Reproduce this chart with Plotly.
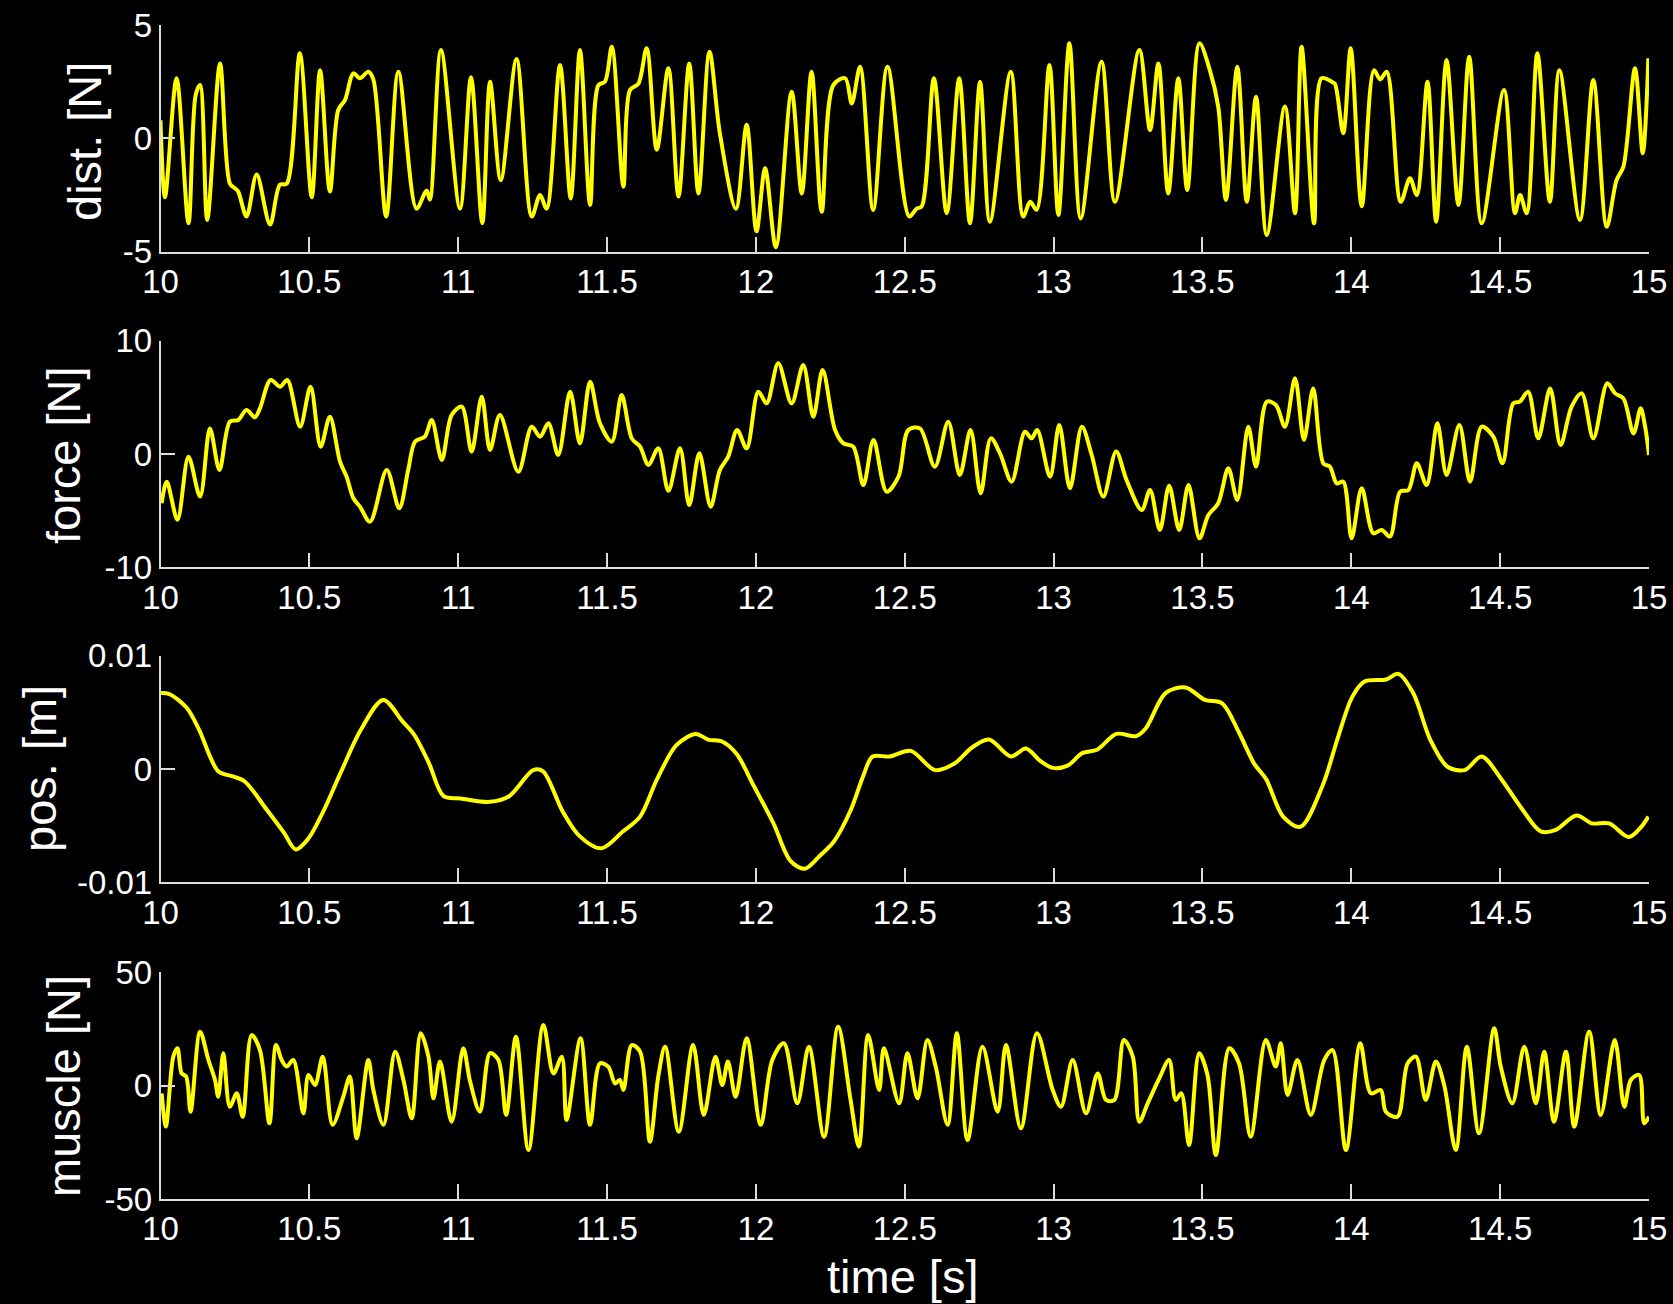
import plotly.graph_objects as go

# ---- disturbance force [N] ----
dist_t = [10.000, 10.015, 10.054, 10.094, 10.118, 10.133, 10.157, 10.200, 10.233, 10.250,
          10.261, 10.289, 10.323, 10.368, 10.401, 10.424, 10.468, 10.508, 10.536, 10.569,
          10.597, 10.620, 10.648, 10.670, 10.698, 10.715, 10.758, 10.799, 10.860, 10.894,
          10.905, 10.942, 11.006, 11.043, 11.081, 11.107, 11.143, 11.196, 11.247, 11.275,
          11.297, 11.342, 11.378, 11.409, 11.443, 11.471, 11.493, 11.516, 11.555, 11.577,
          11.605, 11.633, 11.667, 11.706, 11.740, 11.776, 11.807, 11.844, 11.879, 11.933,
          11.969, 12.002, 12.031, 12.067, 12.120, 12.154, 12.187, 12.221, 12.260, 12.300,
          12.322, 12.350, 12.394, 12.442, 12.515, 12.540, 12.557, 12.598, 12.641, 12.683,
          12.719, 12.753, 12.786, 12.856, 12.898, 12.921, 12.943, 12.986, 13.016, 13.053,
          13.091, 13.161, 13.206, 13.288, 13.324, 13.352, 13.385, 13.419, 13.449, 13.490,
          13.525, 13.553, 13.579, 13.617, 13.649, 13.680, 13.716, 13.777, 13.811, 13.833,
          13.875, 13.900, 13.934, 13.945, 13.973, 13.998, 14.035, 14.076, 14.097, 14.119,
          14.166, 14.197, 14.220, 14.256, 14.285, 14.320, 14.360, 14.396, 14.438, 14.513,
          14.550, 14.567, 14.589, 14.625, 14.667, 14.699, 14.768, 14.813, 14.858, 14.891,
          14.914, 14.953, 14.979, 14.998]
dist_v = [0.8, -2.6, 2.65, -3.75, 1.9, 2.35, -3.6, 3.3, -2.0, -2.2,
          -2.35, -3.45, -1.6, -3.8, -2.05, -2.0, 3.75, -2.6, 3.0, -2.35,
          1.25, 1.7, 2.87, 2.65, 2.94, 2.6, -3.45, 2.94, -3.1, -2.3,
          -2.7, 3.9, -3.1, 2.7, -3.75, 2.5, -1.84, 3.5, -3.45, -2.5,
          -3.1, 3.24, -2.65, 3.9, -2.94, 2.35, 2.5, 4.04, -2.13, 2.13,
          2.4, 3.97, -0.5, 3.09, -2.57, 3.3, -2.43, 3.82, 0.22, -3.1,
          0.6, -4.1, -1.32, -4.8, 2.06, -2.43, 2.94, -3.24, 2.35, 2.65,
          1.54, 3.16, -3.16, 3.16, -3.45, -3.1, -3.0, 2.65, -3.3, 2.65,
          -3.75, 2.5, -3.68, 2.94, -3.45, -2.8, -3.15, 3.24, -3.38, 4.19,
          -3.53, 3.38, -2.8, 3.9, 0.37, 3.3, -2.43, 2.65, -2.28, 4.19,
          3.0, 1.4, -2.72, 3.16, -2.8, 1.84, -4.26, 1.4, -3.3, 4.04,
          -3.75, 2.65, 2.5, 2.4, 0.22, 3.97, -3.0, 3.0, 2.6, 2.94,
          -2.8, -1.76, -2.5, 2.5, -3.68, 3.46, -2.94, 3.6, -3.75, 2.13,
          -3.3, -2.5, -3.3, 3.75, -2.8, 3.0, -3.6, 2.57, -3.9, -1.84,
          -1.25, 3.09, -0.66, 3.53]

# ---- interaction force [N] ----
force_t = [10.004, 10.021, 10.057, 10.094, 10.133, 10.166, 10.198, 10.233, 10.261, 10.289,
           10.317, 10.334, 10.370, 10.402, 10.426, 10.469, 10.504, 10.538, 10.569, 10.603,
           10.625, 10.648, 10.670, 10.704, 10.760, 10.802, 10.832, 10.855, 10.888, 10.911,
           10.945, 10.978, 11.012, 11.045, 11.079, 11.107, 11.140, 11.202, 11.247, 11.275,
           11.303, 11.336, 11.376, 11.409, 11.443, 11.476, 11.516, 11.549, 11.583, 11.611,
           11.639, 11.672, 11.706, 11.745, 11.776, 11.810, 11.848, 11.879, 11.907, 11.937,
           11.969, 12.008, 12.036, 12.075, 12.120, 12.159, 12.193, 12.224, 12.266, 12.294,
           12.327, 12.361, 12.395, 12.439, 12.479, 12.512, 12.551, 12.601, 12.646, 12.685,
           12.721, 12.755, 12.789, 12.820, 12.859, 12.904, 12.926, 12.945, 12.988, 13.019,
           13.055, 13.095, 13.128, 13.167, 13.210, 13.245, 13.296, 13.324, 13.357, 13.388,
           13.422, 13.453, 13.490, 13.520, 13.553, 13.587, 13.617, 13.654, 13.680, 13.716,
           13.747, 13.777, 13.811, 13.841, 13.872, 13.906, 13.928, 13.951, 13.973, 14.001,
           14.035, 14.074, 14.102, 14.130, 14.164, 14.192, 14.220, 14.253, 14.289, 14.320,
           14.363, 14.399, 14.438, 14.477, 14.508, 14.544, 14.566, 14.594, 14.628, 14.668,
           14.703, 14.740, 14.774, 14.813, 14.860, 14.886, 14.914, 14.948, 14.972, 14.987,
           15.000]
force_v = [-4.35, -2.44, -5.8, -0.24, -3.76, 2.26, -1.41, 2.85, 3.0, 3.88,
           3.24, 4.03, 6.53, 5.94, 6.53, 2.41, 5.94, 0.65, 3.29, -0.68,
           -2.0, -3.91, -4.65, -5.97, -1.41, -4.79, -1.41, 1.09, 1.53, 3.0,
           -0.53, 3.44, 4.18, 0.21, 5.06, 0.35, 3.44, -1.56, 2.41, 1.53,
           2.71, -0.09, 5.5, 0.94, 6.38, 2.71, 1.09, 5.21, 1.38, 0.65,
           -0.97, 0.5, -3.25, 0.5, -4.5, 0.06, -4.65, -1.41, -0.24, 2.12,
           0.5, 5.5, 4.47, 8.0, 4.47, 7.85, 3.29, 7.41, 2.12, 0.94,
           0.65, -2.74, 1.24, -3.32, -2.0, 2.12, 2.26, -1.12, 2.85, -1.85,
           2.12, -3.47, 1.38, 0.06, -2.44, 1.97, 1.38, 2.12, -2.0, 2.56,
           -3.03, 2.41, -0.09, -3.76, 0.21, -2.29, -4.94, -3.18, -6.7, -2.8,
           -6.7, -2.74, -7.44, -5.38, -4.35, -1.26, -4.06, 2.41, -1.12, 4.62,
           4.32, 2.41, 6.68, 1.24, 5.79, -0.82, -1.12, -2.59, -2.44, -7.44,
           -3.03, -7.0, -6.7, -7.29, -3.32, -3.18, -0.82, -2.74, 2.71, -1.85,
           2.56, -2.44, 2.41, 1.53, -0.82, 4.47, 4.62, 5.5, 1.38, 5.79,
           0.79, 4.18, 5.35, 1.38, 6.24, 5.35, 4.91, 1.82, 4.03, 2.41,
           -0.09]

# ---- hand position [m] ----
pos_t = [10.002, 10.031, 10.088, 10.129, 10.194, 10.243, 10.283, 10.357, 10.414, 10.454,
         10.495, 10.544, 10.609, 10.674, 10.748, 10.813, 10.853, 10.902, 10.951, 11.008,
         11.106, 11.171, 11.252, 11.285, 11.350, 11.407, 11.481, 11.554, 11.611, 11.668,
         11.733, 11.798, 11.839, 11.888, 11.936, 11.993, 12.059, 12.116, 12.164, 12.213,
         12.262, 12.319, 12.360, 12.392, 12.449, 12.520, 12.602, 12.668, 12.726, 12.783,
         12.857, 12.907, 12.956, 12.997, 13.047, 13.096, 13.146, 13.211, 13.277, 13.310,
         13.376, 13.443, 13.508, 13.566, 13.623, 13.673, 13.714, 13.771, 13.829, 13.903,
         13.953, 14.002, 14.043, 14.117, 14.158, 14.208, 14.265, 14.323, 14.381, 14.438,
         14.504, 14.570, 14.636, 14.685, 14.756, 14.809, 14.866, 14.932, 14.974, 14.998]
pos_v = [0.0067, 0.0066, 0.0054, 0.0035, -0.0002, -0.00065, -0.0011, -0.0036, -0.0056, -0.0071,
         -0.0062, -0.0039, -0.0001, 0.0035, 0.0061, 0.0042, 0.0030, 0.0005, -0.0024, -0.0026,
         -0.0029, -0.0024, -0.0001, -0.0002, -0.0037, -0.0059, -0.0070, -0.0055, -0.0042, -0.0009,
         0.0021, 0.0031, 0.0026, 0.0024, 0.0013, -0.0015, -0.0048, -0.0081, -0.0088, -0.0077,
         -0.0064, -0.0036, -0.00065, 0.0011, 0.0011, 0.0016, -0.0001, 0.0005, 0.0019, 0.0026,
         0.0011, 0.0018, 0.0007, 0.0001, 0.0003, 0.0014, 0.0017, 0.0031, 0.0029, 0.0036,
         0.0067, 0.0072, 0.0061, 0.0058, 0.0032, 0.0005, -0.0009, -0.0042, -0.0051, -0.0015,
         0.0026, 0.0063, 0.0077, 0.0079, 0.0084, 0.0067, 0.0026, 0.0002, -0.0001, 0.0011,
         -0.0009, -0.0034, -0.0055, -0.0054, -0.0041, -0.0048, -0.0048, -0.0060, -0.0051, -0.0042]

# ---- muscle force [N] ----
muscle_t = [10.004, 10.018, 10.043, 10.057, 10.071, 10.086, 10.101, 10.133, 10.161, 10.183,
            10.194, 10.211, 10.233, 10.256, 10.276, 10.306, 10.334, 10.366, 10.388, 10.407,
            10.424, 10.446, 10.480, 10.497, 10.519, 10.545, 10.578, 10.614, 10.636, 10.659,
            10.698, 10.715, 10.749, 10.788, 10.816, 10.844, 10.874, 10.900, 10.917, 10.939,
            10.978, 11.017, 11.040, 11.073, 11.107, 11.135, 11.161, 11.194, 11.236, 11.286,
            11.320, 11.348, 11.364, 11.411, 11.443, 11.476, 11.504, 11.527, 11.543, 11.555,
            11.583, 11.611, 11.644, 11.672, 11.695, 11.741, 11.789, 11.825, 11.864, 11.887,
            11.906, 11.932, 11.969, 12.016, 12.055, 12.094, 12.139, 12.178, 12.229, 12.276,
            12.318, 12.346, 12.377, 12.414, 12.430, 12.481, 12.509, 12.543, 12.576, 12.604,
            12.644, 12.675, 12.711, 12.761, 12.812, 12.840, 12.890, 12.944, 12.997, 13.025,
            13.064, 13.109, 13.148, 13.176, 13.204, 13.236, 13.266, 13.288, 13.316, 13.355,
            13.388, 13.410, 13.429, 13.455, 13.489, 13.517, 13.545, 13.590, 13.623, 13.662,
            13.713, 13.746, 13.763, 13.786, 13.819, 13.864, 13.909, 13.937, 13.982, 14.030,
            14.066, 14.099, 14.116, 14.155, 14.189, 14.217, 14.250, 14.284, 14.312, 14.351,
            14.388, 14.429, 14.480, 14.502, 14.541, 14.581, 14.620, 14.648, 14.681, 14.721,
            14.749, 14.799, 14.838, 14.885, 14.917, 14.939, 14.967, 14.984, 15.000]
muscle_v = [-3.4, -18.0, 12.8, 16.5, 5.4, 4.0, -11.5, 23.8, 11.3, 2.5,
            -4.9, 14.3, -9.3, -3.4, -13.7, 22.3, 15.7, -16.6, 17.9, 11.3,
            8.4, 11.3, -12.2, 4.7, 0.3, 12.8, -17.3, -4.9, 4.0, -23.2,
            11.3, -1.9, -17.3, 15.0, 2.5, -14.4, 23.1, 12.8, -5.6, 10.6,
            -15.9, 16.5, 1.8, -11.5, 14.3, 11.3, -12.9, 21.6, -28.4, 26.8,
            5.4, 12.8, -15.1, 20.9, -17.3, 9.8, 8.4, 1.0, 2.5, -1.9,
            17.9, 15.0, -24.7, 4.0, 17.2, -20.3, 17.9, -12.9, 12.8, 0.3,
            10.6, -4.9, 20.9, -17.3, 11.3, 18.7, -7.8, 17.2, -22.5, 26.0,
            -6.3, -26.9, 22.3, -1.9, 16.5, -7.8, 14.3, -5.6, 20.1, 8.4,
            -17.3, 23.1, -24.0, 17.2, -11.5, 17.9, -18.8, 23.1, -1.9, -9.3,
            11.3, -12.2, 5.4, -6.3, -6.3, 20.1, 12.8, -15.9, -7.8, 3.2,
            11.3, -6.3, -3.4, -26.2, 14.3, 4.7, -30.6, 16.5, 9.8, -22.5,
            20.1, 8.4, 18.7, -4.1, 11.3, -12.9, 11.3, 15.7, -28.4, 18.7,
            -3.4, -1.9, -11.5, -13.7, 9.8, 12.8, -6.3, 10.6, 0.3, -28.4,
            17.2, -21.0, 25.3, 8.4, -7.8, 17.2, -7.8, 15.0, -15.9, 15.0,
            -18.1, 23.8, -12.9, 20.1, -9.3, 2.5, 4.7, -16.6, -13.7]

# ---- axes ticks ----
time_ticks = [10, 10.5, 11, 11.5, 12, 12.5, 13, 13.5, 14, 14.5, 15]
time_labels = ["10", "10.5", "11", "11.5", "12", "12.5", "13", "13.5", "14", "14.5", "15"]

panel_names = ["dist. [N]", "force [N]", "pos. [m]", "muscle [N]"]
panel_ticks = [[-5, 0, 5], [-10, 0, 10], [-0.01, 0, 0.01], [-50, 0, 50]]
panel_labels = [["-5", "0", "5"], ["-10", "0", "10"], ["-0.01", "0", "0.01"], ["-50", "0", "50"]]
panel_ranges = [[-5, 5], [-10, 10], [-0.01, 0.01], [-50, 50]]

W, H = 1673, 1304
FONT = "Liberation Sans, Arial, sans-serif"
AXIS_COLOR = "#dcdcdc"

# panel extents in pixels (top, bottom) and plot x extents
panel_px = [(25, 251.7), (340.7, 567.3), (655.7, 882.3), (972.3, 1199)]
x_left, x_right = 160.5, 1649
title_px = [(84, 142), (63, 455), (39, 769), (63, 1086)]

series = [(dist_t, dist_v), (force_t, force_v), (pos_t, pos_v), (muscle_t, muscle_v)]

fig = go.Figure()
layout = dict(
    template="none",
    width=W, height=H, autosize=False,
    margin=dict(l=0, r=0, t=0, b=0, pad=0, autoexpand=False),
    paper_bgcolor="black", plot_bgcolor="black",
    showlegend=False,
    font=dict(family=FONT, color="white", size=33),
    annotations=[],
)

for i, ((t, v), (top, bot)) in enumerate(zip(series, panel_px)):
    n = "" if i == 0 else str(i + 1)
    fig.add_trace(go.Scatter(
        x=t, y=v, mode="lines",
        line=dict(color="#ffff00", width=4, shape="spline", smoothing=0.9),
        xaxis="x" + n, yaxis="y" + n, hoverinfo="skip",
    ))
    layout["xaxis" + n] = dict(
        domain=[x_left / W, x_right / W], anchor="y" + n, automargin=False,
        range=[10, 15], tickvals=time_ticks, ticktext=time_labels,
        ticks="inside", ticklen=15, tickwidth=1.5, tickcolor=AXIS_COLOR,
        showline=True, linecolor=AXIS_COLOR, linewidth=1.5,
        showgrid=False, zeroline=False, mirror=False,
        tickfont=dict(family=FONT, size=33, color="white"),
    )
    layout["yaxis" + n] = dict(
        domain=[1 - bot / H, 1 - top / H], anchor="x" + n, automargin=False,
        range=panel_ranges[i], tickvals=panel_ticks[i], ticktext=panel_labels[i],
        ticks="inside", ticklen=15, tickwidth=1.5, tickcolor=AXIS_COLOR,
        showline=True, linecolor=AXIS_COLOR, linewidth=1.5,
        showgrid=False, zeroline=False, mirror=False,
        tickfont=dict(family=FONT, size=33, color="white"),
    )
    tx, ty = title_px[i]
    layout["annotations"].append(dict(
        text=panel_names[i], xref="paper", yref="paper",
        x=tx / W, y=1 - ty / H, xanchor="center", yanchor="middle",
        textangle=-90, showarrow=False,
        font=dict(family=FONT, size=47, color="white"),
    ))

layout["annotations"].append(dict(
    text="time [s]", xref="paper", yref="paper",
    x=902 / W, y=1 - 1276 / H, xanchor="center", yanchor="middle",
    showarrow=False, font=dict(family=FONT, size=47, color="white"),
))

fig.update_layout(**layout)
fig.write_html("out.html")
